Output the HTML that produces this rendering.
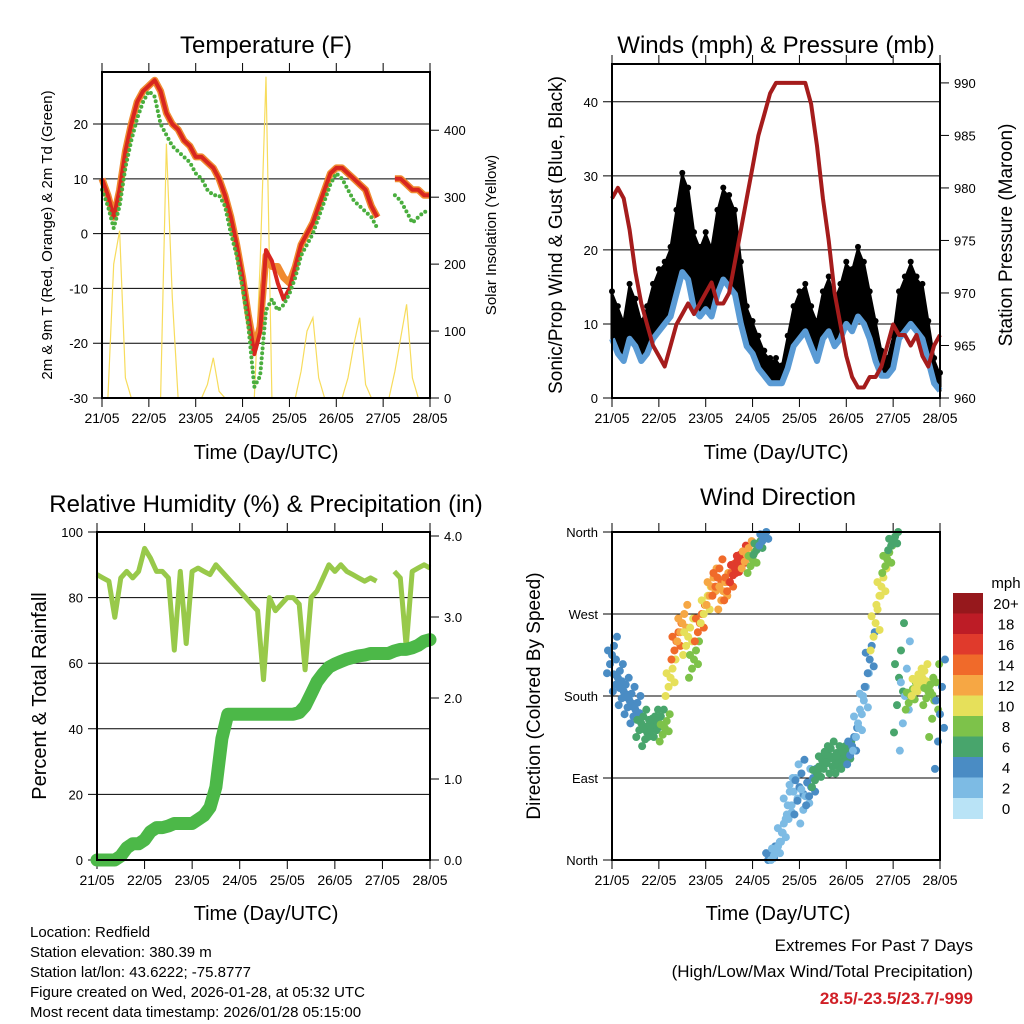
<!DOCTYPE html>
<html><head><meta charset="utf-8"><style>
html,body{margin:0;padding:0;background:#fff;}
svg{display:block;font-family:"Liberation Sans",Arial,sans-serif;}
</style></head><body>
<svg id="chart" width="1024" height="1024" viewBox="0 0 1024 1024"></svg>
<script>
// ---------- data (3-hourly samples, 21/05 00Z .. 28/05 00Z) ----------
const dayLabels = ["21/05","22/05","23/05","24/05","25/05","26/05","27/05","28/05"];
const tempRed = [10,7,3,8,15,20,24,26,27,28,26,22,20,19,17,16,14,14,13,12,10,7,3,-2,-8,-15,-22,-18,-3,-5,-9,-12,-10,-6,-2,0,2,5,8,11,12,12,11,10,9,8,5,3,null,null,10,10,9,8,8,7,7];
const tempOrange = [10,7,3,8,15,20,24,26,27,28,26,22,20,19,17,16,14,14,13,12,10,7,3,-2,-8,-15,-21,-17,-4,-6,-6,-8,-9,-6,-2,0,2,5,8,11,12,12,11,10,9,8,5,3,null,null,10,10,9,8,8,7,7];
const dewGreen = [8,5,1,5,12,17,21,24,26,25,20,18,16,15,14,13,11,10,8,7,7,5,0,-4,-10,-17,-28,-26,-14,-12,-14,-13,-11,-8,-4,-2,0,3,6,9,11,10,8,6,5,4,3,1,null,null,7,6,4,2,3,4,4];
const solar = [0,0,200,250,30,0,0,0, 0,0,0,380,150,0,0,0, 0,0,20,60,10,0,0,0, 0,0,0,200,480,0,0,0, 0,0,40,100,120,30,0,0, 0,0,30,80,120,20,0,0, 0,0,40,90,140,30,0,0, 0];
const gust = [14,12,10,15,13,10,12,15, 17,18,20,25,30,28,22,20, 22,20,25,28,27,25,18,12, 10,8,6,5,5,4,8,12, 14,15,12,10,14,16,13,15, 18,17,20,18,14,10,6,5, 8,14,16,18,16,15,10,5, 3];
const sonic = [8,6,5,8,7,5,6,8, 9,10,11,14,17,16,12,11, 12,11,14,16,15,14,10,7, 6,4,3,2,2,2,4,7, 8,9,7,5,8,9,7,8, 10,9,11,10,8,5,3,3, 4,8,9,10,9,8,5,2, 1];
const pressure = [979,980,979,976,972,969,967,965, 964,963,965,967,968,969,968,969, 970,971,969,969,970,973,976,979, 982,985,987,989,990,990,990,990, 990,990,988,984,979,975,970,967, 964,962,961,961,962,962,963,965, 967,966,966,965,966,964,963,965, 966];
const rh = [87,86,85,74,86,88,86,88, 95,92,88,88,86,64,88,66, 88,89,88,87,90,88,86,84, 82,80,78,76,55,80,76,78, 80,80,78,58,80,82,86,90, 88,90,88,87,86,85,86,85, null,null,88,86,65,88,89,90, 89];
const rain = [0,0,0,0,0.05,0.15,0.2,0.2, 0.25,0.35,0.4,0.4,0.42,0.45,0.45,0.45, 0.45,0.5,0.55,0.65,0.9,1.5,1.8,1.8, 1.8,1.8,1.8,1.8,1.8,1.8,1.8,1.8, 1.8,1.8,1.82,1.9,2.05,2.2,2.3,2.38, 2.42,2.45,2.48,2.5,2.52,2.53,2.55,2.55, 2.55,2.55,2.58,2.6,2.6,2.62,2.65,2.7, 2.72];
const windDir = [225,200,185,175,165,150,140,150, 150,145,200,240,260,245,220,260, 280,300,310,295,305,320,330,335, 330,345,355,5,10,30,60,75, 80,70,80,95,110,115,110,110, 115,125,150,175,220,260,300,330, 350,200,180,180,195,200,185,175, 160];
const windSpd = [4,3,3,4,4,5,6,5, 6,7,10,14,12,9,8,13, 10,12,14,11,14,15,16,12, 8,6,4,3,2,1,2,2, 3,2,4,5,6,6,5,5, 6,3,2,2,3,9,10,8, 6,5,2,8,10,9,8,7, 3];
const dirSpread = [20,15,15,15,15,15,15,15, 15,15,20,20,20,20,20,20, 20,20,20,20,20,15,15,15, 15,10,10,10,10,20,30,30, 30,30,20,15,15,15,15,15, 15,20,30,30,30,30,20,15, 10,60,60,15,15,15,15,40, 60];
const speedColors = ["#b9e3f6","#7dbbe4","#4a8cc4","#48a56c","#7dc24a","#e6e05a","#f6a744","#f06a2a","#e03a2c","#bd1c26","#96181c"];
const speedLabels = ["0","2","4","6","8","10","12","14","16","18","20+"];

const NS="http://www.w3.org/2000/svg";
const svg=document.getElementById('chart');
function mk(tag,attrs,parent){const e=document.createElementNS(NS,tag);for(const k in attrs)e.setAttribute(k,attrs[k]);(parent||svg).appendChild(e);return e;}
function lin(d0,d1,r0,r1){return v=>r0+(v-d0)/(d1-d0)*(r1-r0);}
function txt(x,y,s,size,anchor,extra){const t=mk('text',Object.assign({x:x,y:y,'font-size':size,'text-anchor':anchor||'middle',fill:'#000'},extra||{}));t.textContent=s;return t;}
function pathFrom(arr,xs,ys){let d='',pen=false;arr.forEach((v,i)=>{if(v===null){pen=false;return;}d+=(pen?'L':'M')+xs(i*0.125).toFixed(1)+','+ys(v).toFixed(1);pen=true;});return d;}

function frame(x0,x1,y0,y1,name,leftTicks,rightTicks,ly,ry){
  const g=mk('g',{});
  
  
  const xs=lin(0,7,x0,x1);
  for(let d=0;d<=7;d+=1){
    const x=xs(d),L=9;
    mk('line',{x1:x,y1:y1,x2:x,y2:y1+L,stroke:'#000','stroke-width':1},g);
    mk('line',{x1:x,y1:y0,x2:x,y2:y0-L,stroke:'#000','stroke-width':1},g);
  }
  dayLabels.forEach((s,i)=>{const t=txt(xs(i),y1+25,s,14,'middle');g.appendChild(t);
    
    });
  leftTicks.forEach(tk=>{const y=ly(tk.v);
    mk('line',{x1:x0-9,y1:y,x2:x1,y2:y,stroke:'#000','stroke-width':1},g);
    const t=txt(x0-14,y+5,tk.s,13,'end');g.appendChild(t);
    
    });
  rightTicks.forEach(tk=>{const y=ry(tk.v);
    mk('line',{x1:x1,y1:y,x2:x1+9,y2:y,stroke:'#000','stroke-width':1},g);
    const t=txt(x1+14,y+5,tk.s,13,'start');g.appendChild(t);
    
    });
  return {xs,g};
}
function box(x0,x1,y0,y1,name){const r=mk('rect',{x:x0,y:y0,width:x1-x0,height:y1-y0,fill:'none',stroke:'#000','stroke-width':2});
  
  }
function title(x,y,s,name){const t=txt(x,y,s,24,'middle');
  
  }
function vlabel(x,y,s,size,name){const t=txt(0,0,s,size,'middle',{transform:'translate('+x+','+y+') rotate(-90)'});
  
  }
function hlabel(x,y,s,name){const t=txt(x,y,s,20,'middle');
  
  }

// ---------- Panel 1: Temperature ----------
(function(){
  const x0=102,x1=430,y0=72,y1=398;
  const ly=lin(-30,29.5,y1,y0), ry=lin(0,487,y1,y0);
  const lt=[-30,-20,-10,0,10,20].map(v=>({v,s:String(v)}));
  const rt=[0,100,200,300,400].map(v=>({v,s:String(v)}));
  const {xs}=frame(x0,x1,y0,y1,'temperature',lt,rt,ly,ry);
  const s=mk('path',{d:pathFrom(solar,xs,ry),fill:'none',stroke:'#f7dc5c','stroke-width':1.2});
  
  
  const o=mk('path',{d:pathFrom(tempOrange,xs,ly),fill:'none',stroke:'#f08a30','stroke-width':7,'stroke-linejoin':'round'});
  
  
  const r=mk('path',{d:pathFrom(tempRed,xs,ly),fill:'none',stroke:'#d8261f','stroke-width':4,'stroke-linejoin':'round'});
  
  
  const g=mk('path',{d:pathFrom(dewGreen,xs,ly),fill:'none',stroke:'#4aae3e','stroke-width':4,'stroke-linecap':'round','stroke-dasharray':'0 5'});
  
  
  box(x0,x1,y0,y1,'temperature');
  title(266,53,'Temperature (F)','temperature-title');
  hlabel(266,459,'Time (Day/UTC)','temperature-x-title');
  vlabel(52,235,'2m & 9m T (Red, Orange) & 2m Td (Green)',15,'temperature-y-title');
  vlabel(496,235,'Solar Insolation (Yellow)',15,'solar-y-title');
})();

// ---------- Panel 2: Winds & Pressure ----------
(function(){
  const x0=612,x1=940,y0=64,y1=398;
  const ly=lin(0,45.1,y1,y0), ry=lin(960,991.8,y1,y0);
  const lt=[0,10,20,30,40].map(v=>({v,s:String(v)}));
  const rt=[960,965,970,975,980,985,990].map(v=>({v,s:String(v)}));
  const {xs}=frame(x0,x1,y0,y1,'winds',lt,rt,ly,ry);
  let d='';gust.forEach((v,i)=>{d+=(i?'L':'M')+xs(i*0.125).toFixed(1)+','+ly(v).toFixed(1);});
  for(let i=sonic.length-1;i>=0;i--){d+='L'+xs(i*0.125).toFixed(1)+','+ly(sonic[i]).toFixed(1);}
  const a=mk('path',{d:d+'Z',fill:'#000',stroke:'#000','stroke-width':3,'stroke-linejoin':'round'});
  
  
  gust.forEach((v,i)=>{const c=mk('circle',{cx:xs(i*0.125),cy:ly(v)-3,r:3,fill:'#000'});
    
    });
  const b=mk('path',{d:pathFrom(sonic,xs,ly),fill:'none',stroke:'#5a9bd5','stroke-width':6,'stroke-linejoin':'round'});
  
  
  const p=mk('path',{d:pathFrom(pressure,xs,ry),fill:'none',stroke:'#a51c1c','stroke-width':4,'stroke-linejoin':'round'});
  
  
  box(x0,x1,y0,y1,'winds');
  title(776,53,'Winds (mph) & Pressure (mb)','winds-title');
  hlabel(776,459,'Time (Day/UTC)','winds-x-title');
  vlabel(562,235,'Sonic/Prop Wind & Gust (Blue, Black)',19,'winds-y-title');
  vlabel(1012,235,'Station Pressure (Maroon)',19,'pressure-y-title');
})();

// ---------- Panel 3: RH & Precip ----------
(function(){
  const x0=97,x1=430,y0=532,y1=860;
  const ly=lin(0,100,y1,y0), ry=lin(0,4,y1,y0+4);
  const lt=[0,20,40,60,80,100].map(v=>({v,s:String(v)}));
  const rt=[0,1,2,3,4].map(v=>({v,s:v.toFixed(1)}));
  const {xs}=frame(x0,x1,y0,y1,'humidity',lt,rt,ly,ry);
  const h=mk('path',{d:pathFrom(rh,xs,ly),fill:'none',stroke:'#98c94a','stroke-width':5,'stroke-linejoin':'round'});
  
  
  const rp=mk('path',{d:pathFrom(rain,xs,ry),fill:'none',stroke:'#4cb848','stroke-width':13,'stroke-linejoin':'round','stroke-linecap':'round'});
  
  
  box(x0,x1,y0,y1,'humidity');
  title(266,512,'Relative Humidity (%) & Precipitation (in)','humidity-title');
  hlabel(266,920,'Time (Day/UTC)','humidity-x-title');
  vlabel(46,696,'Percent & Total Rainfall',20,'humidity-y-title');
})();

// ---------- Panel 4: Wind Direction ----------
(function(){
  const x0=612,x1=940,y0=532,y1=860;
  const ly=lin(0,360,y1,y0);
  const lt=[{v:0,s:'North'},{v:90,s:'East'},{v:180,s:'South'},{v:270,s:'West'},{v:360,s:'North'}];
  const {xs}=frame(x0,x1,y0,y1,'direction',lt,[],ly,ly);
  const offs=[[-5,-1],[-2,-0.5],[0,0],[2,0.5],[5,1],[-4,0.25],[4,-0.25]];
  windDir.forEach((v,i)=>{
    const ci=Math.min(10,Math.max(0,Math.round(windSpd[i]/2)));
    offs.forEach(o=>{
      let dv=v+o[1]*dirSpread[i];
      if(dv<0)dv+=360; if(dv>360)dv-=360;
      const c=mk('circle',{cx:xs(i*0.125)+o[0],cy:ly(dv),r:4,fill:speedColors[ci]});
      
      
    });
  });
  box(x0,x1,y0,y1,'direction');
  title(778,505,'Wind Direction','direction-title');
  hlabel(778,920,'Time (Day/UTC)','direction-x-title');
  vlabel(540,696,'Direction (Colored By Speed)',19,'direction-y-title');
  const bx=953,bw=30,btop=593,bh=20.5;
  const t0=txt(1006,588,'mph',15,'middle');
  
  
  for(let k=0;k<11;k++){
    const idx=10-k;
    const r=mk('rect',{x:bx,y:btop+k*bh,width:bw,height:bh+0.5,fill:speedColors[idx]});
    
    
    const t=txt(1006,btop+k*bh+16,speedLabels[idx],15,'middle');
    
    
  }
})();

// ---------- footer text ----------
const info=["Location: Redfield","Station elevation: 380.39 m","Station lat/lon: 43.6222; -75.8777","Figure created on Wed, 2026-01-28, at 05:32 UTC","Most recent data timestamp: 2026/01/28 05:15:00"];
info.forEach((s,i)=>{const t=txt(30,937+i*20,s,15,'start');
  
  });
const e1=txt(973,951,'Extremes For Past 7 Days',17,'end');


const e2=txt(973,977,'(High/Low/Max Wind/Total Precipitation)',17,'end');


const e3=txt(973,1004,'28.5/-23.5/23.7/-999',17,'end',{fill:'#d01f26','font-weight':'bold'});


</script>
</body></html>
